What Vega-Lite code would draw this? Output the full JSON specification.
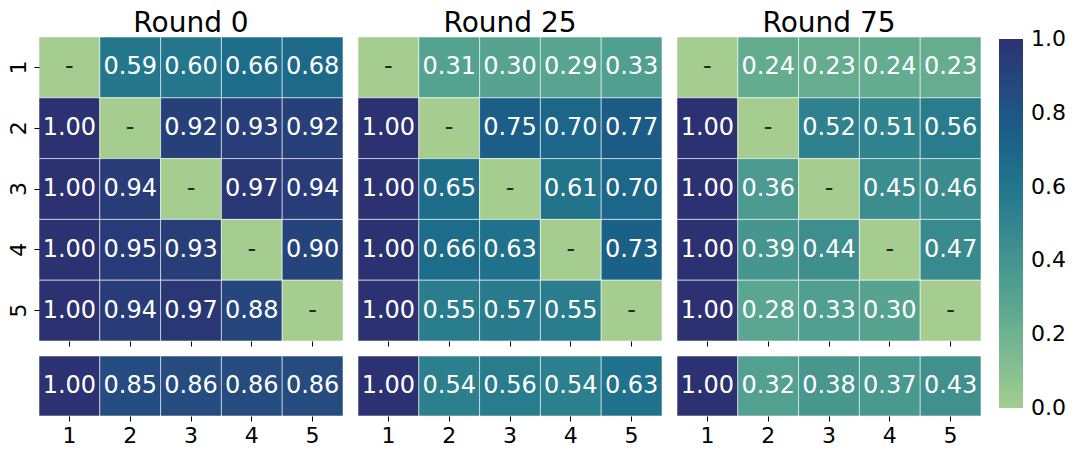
{
  "$schema": "https://vega.github.io/schema/vega-lite/v6.json",
  "background": "white",
  "padding": {"left": 7, "top": 9, "right": 0, "bottom": 0},
  "data": {"values": [
    {"round":"Round 0","part":"pair","row":1,"col":1,"value":null},
    {"round":"Round 0","part":"pair","row":1,"col":2,"value":0.59},
    {"round":"Round 0","part":"pair","row":1,"col":3,"value":0.60},
    {"round":"Round 0","part":"pair","row":1,"col":4,"value":0.66},
    {"round":"Round 0","part":"pair","row":1,"col":5,"value":0.68},
    {"round":"Round 0","part":"pair","row":2,"col":1,"value":1.00},
    {"round":"Round 0","part":"pair","row":2,"col":2,"value":null},
    {"round":"Round 0","part":"pair","row":2,"col":3,"value":0.92},
    {"round":"Round 0","part":"pair","row":2,"col":4,"value":0.93},
    {"round":"Round 0","part":"pair","row":2,"col":5,"value":0.92},
    {"round":"Round 0","part":"pair","row":3,"col":1,"value":1.00},
    {"round":"Round 0","part":"pair","row":3,"col":2,"value":0.94},
    {"round":"Round 0","part":"pair","row":3,"col":3,"value":null},
    {"round":"Round 0","part":"pair","row":3,"col":4,"value":0.97},
    {"round":"Round 0","part":"pair","row":3,"col":5,"value":0.94},
    {"round":"Round 0","part":"pair","row":4,"col":1,"value":1.00},
    {"round":"Round 0","part":"pair","row":4,"col":2,"value":0.95},
    {"round":"Round 0","part":"pair","row":4,"col":3,"value":0.93},
    {"round":"Round 0","part":"pair","row":4,"col":4,"value":null},
    {"round":"Round 0","part":"pair","row":4,"col":5,"value":0.90},
    {"round":"Round 0","part":"pair","row":5,"col":1,"value":1.00},
    {"round":"Round 0","part":"pair","row":5,"col":2,"value":0.94},
    {"round":"Round 0","part":"pair","row":5,"col":3,"value":0.97},
    {"round":"Round 0","part":"pair","row":5,"col":4,"value":0.88},
    {"round":"Round 0","part":"pair","row":5,"col":5,"value":null},
    {"round":"Round 0","part":"mean","col":1,"value":1.00},
    {"round":"Round 0","part":"mean","col":2,"value":0.85},
    {"round":"Round 0","part":"mean","col":3,"value":0.86},
    {"round":"Round 0","part":"mean","col":4,"value":0.86},
    {"round":"Round 0","part":"mean","col":5,"value":0.86},

    {"round":"Round 25","part":"pair","row":1,"col":1,"value":null},
    {"round":"Round 25","part":"pair","row":1,"col":2,"value":0.31},
    {"round":"Round 25","part":"pair","row":1,"col":3,"value":0.30},
    {"round":"Round 25","part":"pair","row":1,"col":4,"value":0.29},
    {"round":"Round 25","part":"pair","row":1,"col":5,"value":0.33},
    {"round":"Round 25","part":"pair","row":2,"col":1,"value":1.00},
    {"round":"Round 25","part":"pair","row":2,"col":2,"value":null},
    {"round":"Round 25","part":"pair","row":2,"col":3,"value":0.75},
    {"round":"Round 25","part":"pair","row":2,"col":4,"value":0.70},
    {"round":"Round 25","part":"pair","row":2,"col":5,"value":0.77},
    {"round":"Round 25","part":"pair","row":3,"col":1,"value":1.00},
    {"round":"Round 25","part":"pair","row":3,"col":2,"value":0.65},
    {"round":"Round 25","part":"pair","row":3,"col":3,"value":null},
    {"round":"Round 25","part":"pair","row":3,"col":4,"value":0.61},
    {"round":"Round 25","part":"pair","row":3,"col":5,"value":0.70},
    {"round":"Round 25","part":"pair","row":4,"col":1,"value":1.00},
    {"round":"Round 25","part":"pair","row":4,"col":2,"value":0.66},
    {"round":"Round 25","part":"pair","row":4,"col":3,"value":0.63},
    {"round":"Round 25","part":"pair","row":4,"col":4,"value":null},
    {"round":"Round 25","part":"pair","row":4,"col":5,"value":0.73},
    {"round":"Round 25","part":"pair","row":5,"col":1,"value":1.00},
    {"round":"Round 25","part":"pair","row":5,"col":2,"value":0.55},
    {"round":"Round 25","part":"pair","row":5,"col":3,"value":0.57},
    {"round":"Round 25","part":"pair","row":5,"col":4,"value":0.55},
    {"round":"Round 25","part":"pair","row":5,"col":5,"value":null},
    {"round":"Round 25","part":"mean","col":1,"value":1.00},
    {"round":"Round 25","part":"mean","col":2,"value":0.54},
    {"round":"Round 25","part":"mean","col":3,"value":0.56},
    {"round":"Round 25","part":"mean","col":4,"value":0.54},
    {"round":"Round 25","part":"mean","col":5,"value":0.63},

    {"round":"Round 75","part":"pair","row":1,"col":1,"value":null},
    {"round":"Round 75","part":"pair","row":1,"col":2,"value":0.24},
    {"round":"Round 75","part":"pair","row":1,"col":3,"value":0.23},
    {"round":"Round 75","part":"pair","row":1,"col":4,"value":0.24},
    {"round":"Round 75","part":"pair","row":1,"col":5,"value":0.23},
    {"round":"Round 75","part":"pair","row":2,"col":1,"value":1.00},
    {"round":"Round 75","part":"pair","row":2,"col":2,"value":null},
    {"round":"Round 75","part":"pair","row":2,"col":3,"value":0.52},
    {"round":"Round 75","part":"pair","row":2,"col":4,"value":0.51},
    {"round":"Round 75","part":"pair","row":2,"col":5,"value":0.56},
    {"round":"Round 75","part":"pair","row":3,"col":1,"value":1.00},
    {"round":"Round 75","part":"pair","row":3,"col":2,"value":0.36},
    {"round":"Round 75","part":"pair","row":3,"col":3,"value":null},
    {"round":"Round 75","part":"pair","row":3,"col":4,"value":0.45},
    {"round":"Round 75","part":"pair","row":3,"col":5,"value":0.46},
    {"round":"Round 75","part":"pair","row":4,"col":1,"value":1.00},
    {"round":"Round 75","part":"pair","row":4,"col":2,"value":0.39},
    {"round":"Round 75","part":"pair","row":4,"col":3,"value":0.44},
    {"round":"Round 75","part":"pair","row":4,"col":4,"value":null},
    {"round":"Round 75","part":"pair","row":4,"col":5,"value":0.47},
    {"round":"Round 75","part":"pair","row":5,"col":1,"value":1.00},
    {"round":"Round 75","part":"pair","row":5,"col":2,"value":0.28},
    {"round":"Round 75","part":"pair","row":5,"col":3,"value":0.33},
    {"round":"Round 75","part":"pair","row":5,"col":4,"value":0.30},
    {"round":"Round 75","part":"pair","row":5,"col":5,"value":null},
    {"round":"Round 75","part":"mean","col":1,"value":1.00},
    {"round":"Round 75","part":"mean","col":2,"value":0.32},
    {"round":"Round 75","part":"mean","col":3,"value":0.38},
    {"round":"Round 75","part":"mean","col":4,"value":0.37},
    {"round":"Round 75","part":"mean","col":5,"value":0.43}
  ]},
  "hconcat": [
    {
      "spacing": 8,
      "vconcat": [
        {
          "title": "Round 0",
          "width": 304, "height": 304,
          "transform": [{"filter": "datum.round === 'Round 0' && datum.part === 'pair'"}],
          "encoding": {
            "x": {"field": "col", "type": "ordinal", "scale": {"paddingInner": 0, "paddingOuter": 0}, "axis": {"labels": false, "title": null}},
            "y": {"field": "row", "type": "ordinal", "scale": {"paddingInner": 0, "paddingOuter": 0}, "axis": {"labelAngle": -90, "title": null}}
          },
          "layer": [
            {"mark": {"type": "rect", "stroke": "#ffffff", "strokeWidth": 1, "strokeOpacity": 0.55, "invalid": "show"},
             "encoding": {"color": {"condition": {"test": "datum.value === null", "value": "#a5cd90"}, "field": "value", "type": "quantitative"}}},
            {"mark": {"type": "text", "fontSize": 24},
             "encoding": {"text": {"condition": {"test": "datum.value === null", "value": "-"}, "field": "value", "type": "quantitative", "format": ".2f"},
                          "color": {"condition": {"test": "datum.value === null", "value": "#262626"}, "value": "#ffffff"}}}
          ]
        },
        {
          "width": 304, "height": 60,
          "transform": [{"filter": "datum.round === 'Round 0' && datum.part === 'mean'"}],
          "encoding": {
            "x": {"field": "col", "type": "ordinal", "scale": {"paddingInner": 0, "paddingOuter": 0}, "axis": {"labelAngle": 0, "title": null}}
          },
          "layer": [
            {"mark": {"type": "rect", "stroke": "#ffffff", "strokeWidth": 1, "strokeOpacity": 0.55, "invalid": "show"},
             "encoding": {"color": {"field": "value", "type": "quantitative"}}},
            {"mark": {"type": "text", "fontSize": 24, "color": "#ffffff"},
             "encoding": {"text": {"field": "value", "type": "quantitative", "format": ".2f"}}}
          ]
        }
      ]
    },
    {
      "spacing": 8,
      "vconcat": [
        {
          "title": "Round 25",
          "width": 304, "height": 304,
          "transform": [{"filter": "datum.round === 'Round 25' && datum.part === 'pair'"}],
          "encoding": {
            "x": {"field": "col", "type": "ordinal", "scale": {"paddingInner": 0, "paddingOuter": 0}, "axis": {"labels": false, "title": null}},
            "y": {"field": "row", "type": "ordinal", "scale": {"paddingInner": 0, "paddingOuter": 0}, "axis": null}
          },
          "layer": [
            {"mark": {"type": "rect", "stroke": "#ffffff", "strokeWidth": 1, "strokeOpacity": 0.55, "invalid": "show"},
             "encoding": {"color": {"condition": {"test": "datum.value === null", "value": "#a5cd90"}, "field": "value", "type": "quantitative"}}},
            {"mark": {"type": "text", "fontSize": 24},
             "encoding": {"text": {"condition": {"test": "datum.value === null", "value": "-"}, "field": "value", "type": "quantitative", "format": ".2f"},
                          "color": {"condition": {"test": "datum.value === null", "value": "#262626"}, "value": "#ffffff"}}}
          ]
        },
        {
          "width": 304, "height": 60,
          "transform": [{"filter": "datum.round === 'Round 25' && datum.part === 'mean'"}],
          "encoding": {
            "x": {"field": "col", "type": "ordinal", "scale": {"paddingInner": 0, "paddingOuter": 0}, "axis": {"labelAngle": 0, "title": null}}
          },
          "layer": [
            {"mark": {"type": "rect", "stroke": "#ffffff", "strokeWidth": 1, "strokeOpacity": 0.55, "invalid": "show"},
             "encoding": {"color": {"field": "value", "type": "quantitative"}}},
            {"mark": {"type": "text", "fontSize": 24, "color": "#ffffff"},
             "encoding": {"text": {"field": "value", "type": "quantitative", "format": ".2f"}}}
          ]
        }
      ]
    },
    {
      "spacing": 8,
      "vconcat": [
        {
          "title": "Round 75",
          "width": 304, "height": 304,
          "transform": [{"filter": "datum.round === 'Round 75' && datum.part === 'pair'"}],
          "encoding": {
            "x": {"field": "col", "type": "ordinal", "scale": {"paddingInner": 0, "paddingOuter": 0}, "axis": {"labels": false, "title": null}},
            "y": {"field": "row", "type": "ordinal", "scale": {"paddingInner": 0, "paddingOuter": 0}, "axis": null}
          },
          "layer": [
            {"mark": {"type": "rect", "stroke": "#ffffff", "strokeWidth": 1, "strokeOpacity": 0.55, "invalid": "show"},
             "encoding": {"color": {"condition": {"test": "datum.value === null", "value": "#a5cd90"}, "field": "value", "type": "quantitative"}}},
            {"mark": {"type": "text", "fontSize": 24},
             "encoding": {"text": {"condition": {"test": "datum.value === null", "value": "-"}, "field": "value", "type": "quantitative", "format": ".2f"},
                          "color": {"condition": {"test": "datum.value === null", "value": "#262626"}, "value": "#ffffff"}}}
          ]
        },
        {
          "width": 304, "height": 60,
          "transform": [{"filter": "datum.round === 'Round 75' && datum.part === 'mean'"}],
          "encoding": {
            "x": {"field": "col", "type": "ordinal", "scale": {"paddingInner": 0, "paddingOuter": 0}, "axis": {"labelAngle": 0, "title": null}}
          },
          "layer": [
            {"mark": {"type": "rect", "stroke": "#ffffff", "strokeWidth": 1, "strokeOpacity": 0.55, "invalid": "show"},
             "encoding": {"color": {"field": "value", "type": "quantitative",
               "scale": {"domain": [0, 0.142857, 0.285714, 0.428571, 0.571429, 0.714286, 0.857143, 1],
                         "range": ["#a5cd90", "#7dba91", "#59a590", "#40908e", "#287a8c", "#1c6488", "#254b7f", "#2c3172"]},
               "legend": {"orient": "none", "legendX": 960, "legendY": 2, "direction": "vertical",
                          "gradientLength": 369, "gradientThickness": 24, "gradientStrokeWidth": 0,
                          "title": null, "values": [0, 0.2, 0.4, 0.6, 0.8, 1.0], "format": ".1f",
                          "labelFontSize": 22, "labelOffset": 8, "labelOverlap": false, "labelColor": "#000000", "padding": 0,
                          "encode": {"labels": {"update": {"baseline": {"value": "middle"}}}}}}}},
            {"mark": {"type": "text", "fontSize": 24, "color": "#ffffff"},
             "encoding": {"text": {"field": "value", "type": "quantitative", "format": ".2f"}}}
          ]
        }
      ]
    }
  ],
  "spacing": 13,
  "config": {
    "font": "DejaVu Sans",
    "view": {"stroke": null},
    "axis": {"domain": false, "tickSize": 5, "tickWidth": 1, "tickColor": "#000000", "labelColor": "#000000", "labelFontSize": 22, "labelPadding": 4, "grid": false},
    "title": {"fontSize": 28, "fontWeight": "normal", "color": "#000000", "anchor": "middle", "offset": -1, "baseline": "alphabetic"}
  }
}
